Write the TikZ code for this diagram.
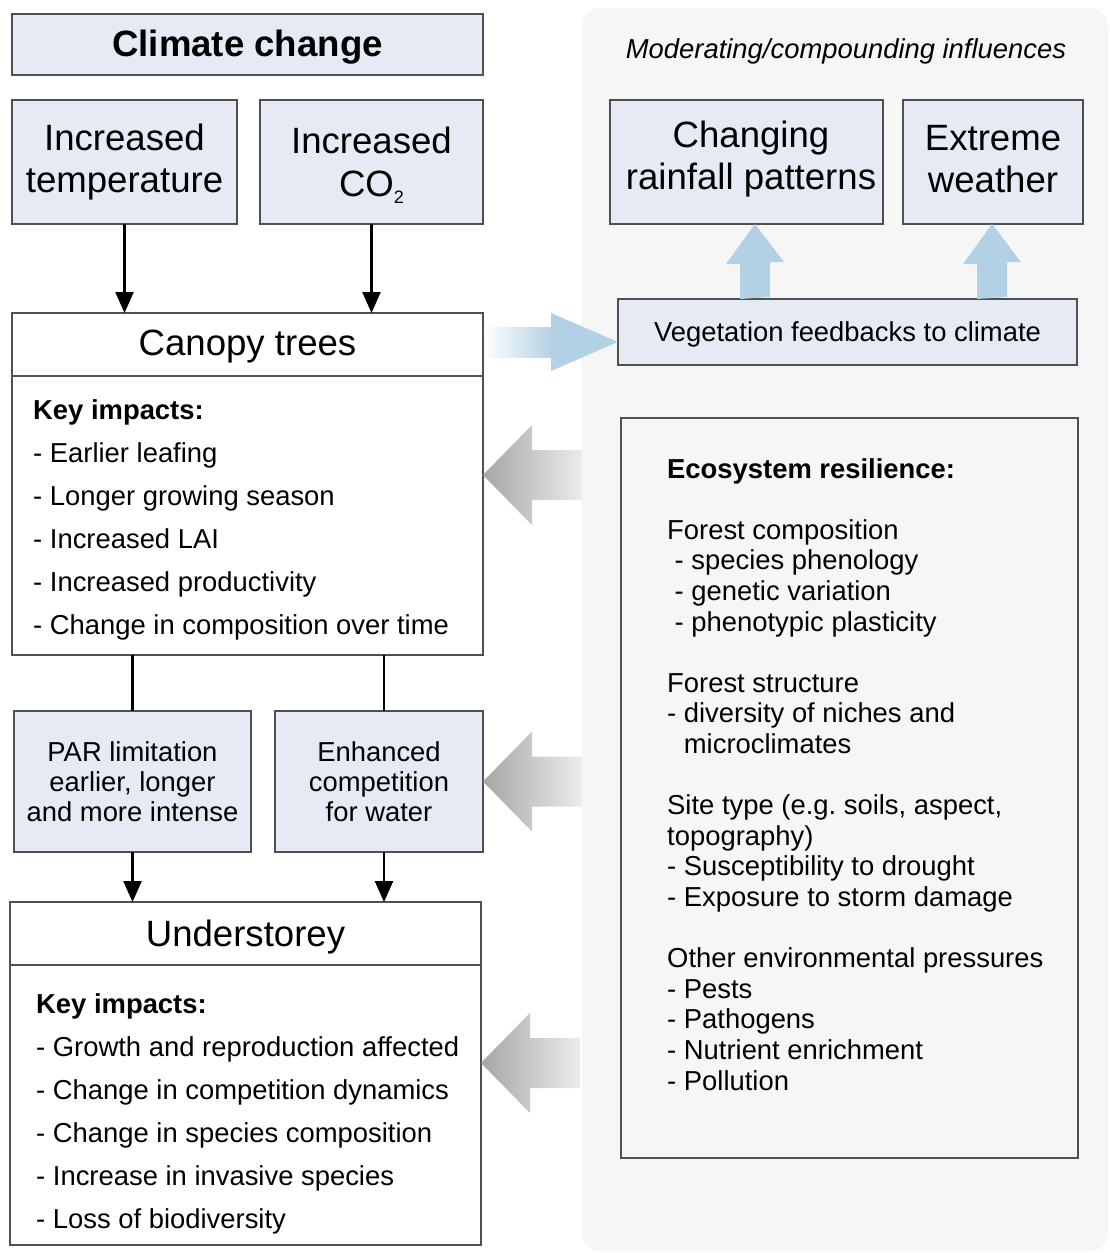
\documentclass[tikz,border=0pt]{standalone}
\usepackage{fontspec}
\setmainfont{Liberation Sans}
\usetikzlibrary{arrows.meta,calc}

\definecolor{boxfill}{RGB}{230,234,244}
\definecolor{boxline}{RGB}{80,80,80}
\definecolor{panelgrey}{RGB}{246,246,246}
\definecolor{feedblue}{RGB}{179,209,229}
\definecolor{pushdark}{RGB}{166,166,166}
\definecolor{pushlight}{RGB}{236,236,236}

\newcommand\bigsize{\fontsize{36.6}{42}\selectfont}
\newcommand\txtsize{\fontsize{27.4}{31}\selectfont}

\tikzset{
  frame/.style={draw=boxline, line width=1.8pt, fill=boxfill, inner sep=0pt, outer sep=0pt},
  hframe/.style={frame, fill=white},
  big/.style={font=\bigsize, inner sep=0pt},
  txt/.style={font=\txtsize, inner sep=0pt},
  conn/.style={draw=black, line width=2.4pt, -{Triangle[width=18pt,length=21pt]}},
  link/.style={draw=black, line width=2.4pt},
  pics/pusharrow/.style={code={
    \shade[left color=pushdark, right color=pushlight]
      (0,0) -- (49,-50) -- (49,-25) -- (99,-25) -- (99,25) -- (49,25) -- (49,50) -- cycle;
  }}
}

\begin{document}
\frenchspacing
\begin{tikzpicture}[x=1pt, y=-1pt]
\useasboundingbox (0,0) rectangle (1110,1253);
\fill[white] (0,0) rectangle (1110,1253);

% right-hand panel of moderating influences
\node[fill=panelgrey, rounded corners=18pt, minimum width=526pt, minimum height=1243pt, inner sep=0pt]
  (panel) at (845,629.5) {};

% left column: drivers and responses
\node[frame, minimum width=471pt, minimum height=61pt] (cc) at (247.5,44.5) {};
\node[frame, minimum width=225pt, minimum height=124pt] (temp) at (124.5,162) {};
\node[frame, minimum width=223pt, minimum height=124pt] (co2) at (371.5,162) {};
\node[hframe, minimum width=471pt, minimum height=63pt] (canopy) at (247.5,344.5) {};
\node[hframe, minimum width=471pt, minimum height=279pt] (cki) at (247.5,515.5) {};
\node[frame, minimum width=237pt, minimum height=141pt] (par) at (132.5,781.5) {};
\node[frame, minimum width=208pt, minimum height=141pt] (enh) at (379,781.5) {};
\node[hframe, minimum width=471pt, minimum height=63pt] (under) at (245.5,933.5) {};
\node[hframe, minimum width=471pt, minimum height=280pt] (uki) at (245.5,1105) {};

% right column boxes
\node[frame, minimum width=273pt, minimum height=124pt] (rain) at (746.5,162) {};
\node[frame, minimum width=180pt, minimum height=124pt] (ext) at (993,162) {};
\node[frame, minimum width=459pt, minimum height=66pt] (veg) at (847.5,332) {};
\node[frame, fill=none, minimum width=457pt, minimum height=740pt] (res) at (849.5,788) {};

% box texts
\node[big, anchor=base] (cc-t) at (247.5,56) {\bfseries Climate change};
\node[big, anchor=base] (temp-1) at (124.5,150) {Increased};
\node[big, anchor=base] (temp-2) at (124.5,192) {temperature};
\node[big, anchor=base] (co2-1) at (371.5,153) {Increased};
\node[big, anchor=base] (co2-2) at (371.5,196) {CO\raisebox{-7pt}{\fontsize{18}{18}\selectfont 2}};
\node[big, anchor=base] (canopy-t) at (247.5,355) {Canopy trees};
\node[big, anchor=base] (under-t) at (245.5,946) {Understorey};
\node[txt, anchor=base] (par-1) at (132.5,761.5) {PAR limitation};
\node[txt, anchor=base] (par-2) at (132.5,791.5) {earlier, longer};
\node[txt, anchor=base] (par-3) at (132.5,821.5) {and more intense};
\node[txt, anchor=base] (enh-1) at (379,761.5) {Enhanced};
\node[txt, anchor=base] (enh-2) at (379,791.5) {competition};
\node[txt, anchor=base] (enh-3) at (379,821.5) {for water};

\node[txt, anchor=base] (panel-t) at (846,58) {\itshape Moderating/compounding influences};
\node[big, anchor=base] (rain-1) at (751,147) {Changing};
\node[big, anchor=base] (rain-2) at (751,189) {rainfall patterns};
\node[big, anchor=base] (ext-1) at (993,150) {Extreme};
\node[big, anchor=base] (ext-2) at (993,192) {weather};
\node[txt, anchor=base] (veg-t) at (847.5,341) {Vegetation feedbacks to climate};

% impact lists
\foreach \t [count=\i from 0] in {{\bfseries Key impacts:}, - Earlier leafing,
    - Longer growing season, - Increased LAI, - Increased productivity,
    - Change in composition over time}
  \node[txt, anchor=base west] (cki-\i) at (33,{419+43*\i}) {\t};

\foreach \t [count=\i from 0] in {{\bfseries Key impacts:}, - Growth and reproduction affected,
    - Change in competition dynamics, - Change in species composition,
    - Increase in invasive species, - Loss of biodiversity}
  \node[txt, anchor=base west] (uki-\i) at (36,{1013+43*\i}) {\t};

\foreach \i/\t in {0/{\bfseries Ecosystem resilience:},
    2/{Forest composition},
    3/{\hspace*{7.5pt}- species phenology},
    4/{\hspace*{7.5pt}- genetic variation},
    5/{\hspace*{7.5pt}- phenotypic plasticity},
    7/{Forest structure},
    8/{- diversity of niches and},
    9/{\hspace*{16.7pt}microclimates},
    11/{Site type (e.g. soils, aspect,},
    12/{topography)},
    13/{- Susceptibility to drought},
    14/{- Exposure to storm damage},
    16/{Other environmental pressures},
    17/{- Pests},
    18/{- Pathogens},
    19/{- Nutrient enrichment},
    20/{- Pollution}}
  \node[txt, anchor=base west] (res-\i) at (667,{478+30.6*\i}) {\t};

% causal connectors
\coordinate (colR) at (384,0);
\draw[conn] (temp.south) -- (temp.south |- canopy.north);
\draw[conn] (co2.south) -- (co2.south |- canopy.north);
\draw[link] (cki.south -| par.north) -- (par.north);
\draw[link] (cki.south -| colR) -- (enh.north -| colR);
\draw[conn] (par.south) -- (par.south |- under.north);
\draw[conn] (enh.south -| colR) -- (under.north -| colR);

% feedback arrow from the canopy to the climate
\coordinate (fbY) at (0,342);
\shade[left color=white, right color=feedblue] (canopy.east |- fbY) ++(2,-15) rectangle ++(67,30);
\fill[feedblue] (veg.west |- fbY) -- ++(-67,-29) -- ++(0,58) -- cycle;

% feedback arrows up to rainfall and extremes
\coordinate (u1x) at (755,0);
\coordinate (u2x) at (992,0);
\fill[feedblue] (veg.north -| u1x) ++(-15,0) -- ++(0,-35) -- ++(-14,0) -- (rain.south -| u1x)
  -- ++(29,38) -- ++(-14,0) -- ++(0,35) -- cycle;
\fill[feedblue] (veg.north -| u2x) ++(-15,0) -- ++(0,-35) -- ++(-14,0) -- (ext.south -| u2x)
  -- ++(29,38) -- ++(-14,0) -- ++(0,35) -- cycle;

% influence of ecosystem resilience on the left column
\coordinate (g1) at (0,475);
\coordinate (g3) at (0,1063);
\pic at (cki.east |- g1) {pusharrow};
\pic at (enh.east) {pusharrow};
\pic at (uki.east |- g3) {pusharrow};
\end{tikzpicture}
\end{document}
